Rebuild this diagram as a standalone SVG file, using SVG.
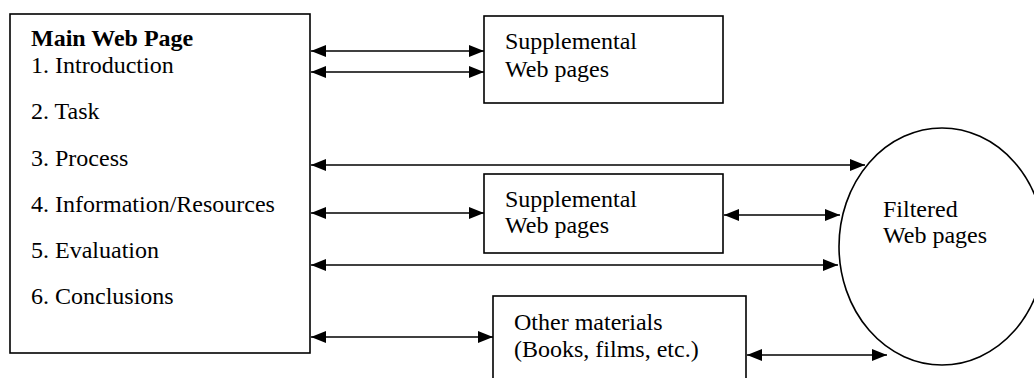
<svg xmlns="http://www.w3.org/2000/svg" width="1034" height="378" viewBox="0 0 1034 378">
  <style>
    .box { fill: #fff; stroke: #000; stroke-width: 1.6; }
    .lbl { font-family: "Liberation Serif", "Times New Roman", serif; font-size: 24px; fill: #000; }
    .title { font-weight: bold; }
    .link { stroke: #000; stroke-width: 1.5; fill: none; marker-start: url(#head); marker-end: url(#head); }
  </style>
  <defs>
    <marker id="head" viewBox="0 0 15 12" refX="15" refY="6" markerWidth="15" markerHeight="12" markerUnits="userSpaceOnUse" orient="auto-start-reverse">
      <path d="M0,0 L15,6 L0,12 Z" fill="#000"/>
    </marker>
  </defs>
  <rect width="1034" height="378" fill="#fff"/>

  <g id="main-page">
    <rect class="box" x="10" y="14" width="300" height="339"/>
    <text class="lbl title" x="31" y="46">Main Web Page</text>
    <text class="lbl" x="31" y="73">1. Introduction</text>
    <text class="lbl" x="31" y="119">2. Task</text>
    <text class="lbl" x="31" y="165.5">3. Process</text>
    <text class="lbl" x="31" y="212">4. Information/Resources</text>
    <text class="lbl" x="31" y="258">5. Evaluation</text>
    <text class="lbl" x="31" y="304">6. Conclusions</text>
  </g>

  <g id="supplemental-top">
    <rect class="box" x="484" y="16" width="239" height="87"/>
    <text class="lbl" x="505" y="49">Supplemental</text>
    <text class="lbl" x="505" y="77">Web pages</text>
  </g>

  <g id="supplemental-middle">
    <rect class="box" x="484" y="174" width="239" height="79"/>
    <text class="lbl" x="505" y="207">Supplemental</text>
    <text class="lbl" x="505" y="233">Web pages</text>
  </g>

  <g id="other-materials">
    <rect class="box" x="493" y="296" width="253" height="110"/>
    <text class="lbl" x="514" y="330">Other materials</text>
    <text class="lbl" x="514" y="357">(Books, films, etc.)</text>
  </g>

  <g id="filtered-pages">
    <ellipse class="box" cx="942" cy="246.5" rx="103" ry="118.5"/>
    <text class="lbl" x="883" y="217">Filtered</text>
    <text class="lbl" x="883" y="243">Web pages</text>
  </g>

  <g id="connectors">
    <line class="link" x1="311" y1="51" x2="484" y2="51"/>
    <line class="link" x1="311" y1="72" x2="484" y2="72"/>
    <line class="link" x1="311" y1="165" x2="865" y2="165"/>
    <line class="link" x1="311" y1="213" x2="484" y2="213"/>
    <line class="link" x1="724" y1="215" x2="840" y2="215"/>
    <line class="link" x1="311" y1="265" x2="838" y2="265"/>
    <line class="link" x1="311" y1="337" x2="493" y2="337"/>
    <line class="link" x1="747" y1="355" x2="887" y2="355"/>
  </g>
</svg>
